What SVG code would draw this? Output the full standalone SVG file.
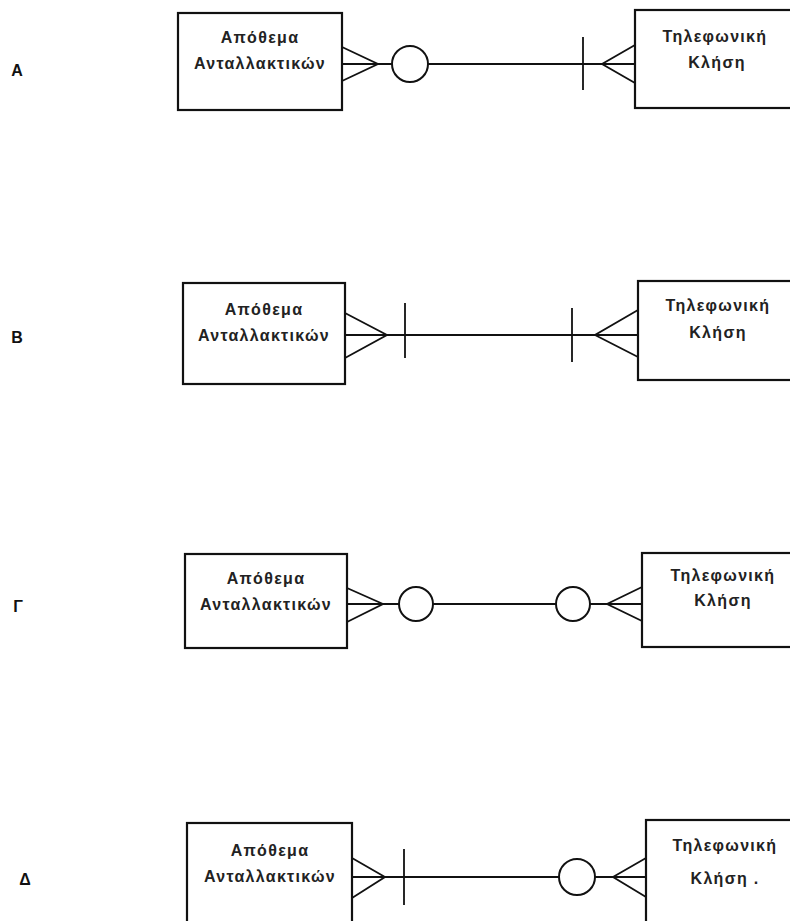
<svg xmlns="http://www.w3.org/2000/svg" width="790" height="921" viewBox="0 0 790 921">
  <style>
    .box { fill: #fff; stroke: #111; stroke-width: 2.2; }
    .ln { fill: none; stroke: #111; stroke-width: 1.8; }
    .ring { fill: #fff; stroke: #111; stroke-width: 2; }
    .txt { font-family: "Liberation Sans", "DejaVu Sans", sans-serif; font-size: 16px; font-weight: bold; letter-spacing: 1.3px; fill: #222; text-anchor: middle; }
    .lbl { font-family: "Liberation Sans", "DejaVu Sans", sans-serif; font-size: 16px; font-weight: bold; fill: #111; text-anchor: middle; }
  </style>

  <rect width="790" height="921" fill="#fff"/>

  <!-- option labels -->
  <g id="labels">
    <text class="lbl" x="17" y="76">A</text>
    <text class="lbl" x="17" y="343">B</text>
    <text class="lbl" x="18" y="612">Γ</text>
    <text class="lbl" x="25" y="885">Δ</text>
  </g>

  <!-- row A -->
  <g id="a-stock">
    <rect class="box" x="178" y="13" width="164" height="97"/>
    <text class="txt" x="260" y="43">Απόθεμα</text>
    <text class="txt" x="260" y="69">Ανταλλακτικών</text>
  </g>
  <g id="a-call">
    <rect class="box" x="635" y="10" width="170" height="98"/>
    <text class="txt" x="715" y="42">Τηλεφωνική</text>
    <text class="txt" x="717" y="68">Κλήση</text>
  </g>

  <!-- row B -->
  <g id="b-stock">
    <rect class="box" x="183" y="283" width="162" height="101"/>
    <text class="txt" x="264" y="315">Απόθεμα</text>
    <text class="txt" x="264" y="341">Ανταλλακτικών</text>
  </g>
  <g id="b-call">
    <rect class="box" x="638" y="281" width="170" height="99"/>
    <text class="txt" x="718" y="311">Τηλεφωνική</text>
    <text class="txt" x="718" y="338">Κλήση</text>
  </g>

  <!-- row Γ -->
  <g id="c-stock">
    <rect class="box" x="185" y="554" width="162" height="94"/>
    <text class="txt" x="266" y="584">Απόθεμα</text>
    <text class="txt" x="266" y="610">Ανταλλακτικών</text>
  </g>
  <g id="c-call">
    <rect class="box" x="642" y="553" width="170" height="94"/>
    <text class="txt" x="723" y="581">Τηλεφωνική</text>
    <text class="txt" x="723" y="606">Κλήση</text>
  </g>

  <!-- row Δ -->
  <g id="d-stock">
    <rect class="box" x="187" y="823" width="165" height="120"/>
    <text class="txt" x="270" y="856">Απόθεμα</text>
    <text class="txt" x="270" y="882">Ανταλλακτικών</text>
  </g>
  <g id="d-call">
    <rect class="box" x="646" y="820" width="170" height="120"/>
    <text class="txt" x="725" y="851">Τηλεφωνική</text>
    <text class="txt" x="725" y="884">Κλήση .</text>
  </g>

  <!-- relationship lines with crow's-foot ends -->
  <g id="connectors">
    <!-- A -->
    <path class="ln" d="M342 47 L378 64 L342 81 M342 64 H392"/>
    <circle class="ring" cx="410" cy="64" r="18"/>
    <path class="ln" d="M428 64 H635 M583 37 V90 M635 45 L602 64 L635 83"/>

    <!-- B -->
    <path class="ln" d="M345 313 L387 335 L345 358 M345 335 H638 M405 303 V358 M572 308 V362 M638 310 L595 335 L638 357"/>

    <!-- Γ -->
    <path class="ln" d="M347 588 L383 604 L347 622 M347 604 H399"/>
    <circle class="ring" cx="416" cy="604" r="17"/>
    <path class="ln" d="M433 604 H556"/>
    <circle class="ring" cx="573" cy="604" r="17"/>
    <path class="ln" d="M590 604 H642 M642 587 L607 604 L642 621"/>

    <!-- Δ -->
    <path class="ln" d="M352 858 L385 877 L352 898 M352 877 H559 M404 849 V905"/>
    <circle class="ring" cx="577" cy="877" r="18"/>
    <path class="ln" d="M595 877 H646 M646 858 L613 877 L646 897"/>
  </g>
</svg>
